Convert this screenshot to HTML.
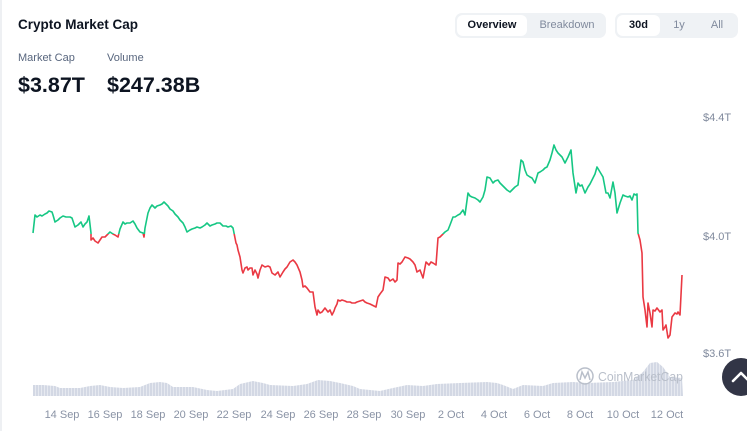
<!DOCTYPE html>
<html><head><meta charset="utf-8"><style>
html,body{margin:0;padding:0;background:#fff;}
body{width:747px;height:431px;position:relative;overflow:hidden;font-family:"Liberation Sans",Arial,sans-serif;}
.edge{position:absolute;left:0;top:0;width:2px;height:431px;background:#eef0f3;}
.title{position:absolute;left:18px;top:17px;font-size:13.5px;font-weight:bold;color:#0d1421;}
.lbl{position:absolute;top:52px;font-size:11px;color:#58667e;}
.val{position:absolute;top:73px;font-size:21.5px;font-weight:bold;color:#0d1421;}
.grp{position:absolute;top:13px;height:25px;background:#eff2f5;border-radius:7px;}
.btn{position:absolute;top:2px;height:21px;line-height:21px;text-align:center;font-size:11px;color:#808a9d;}
.btn.on{background:#fff;border-radius:6px;color:#0d1421;font-weight:bold;}
.ylab{position:absolute;left:703px;font-size:11px;color:#808a9d;}
.xlab{position:absolute;top:409px;font-size:11px;color:#8a93a5;width:50px;margin-left:-25px;text-align:center;}
.up{position:absolute;left:722px;top:358px;width:38px;height:38px;border-radius:50%;background:#323546;}
</style></head><body>
<div class="edge"></div>
<div class="title">Crypto Market Cap</div>
<div class="lbl" style="left:18px">Market Cap</div>
<div class="lbl" style="left:107px">Volume</div>
<div class="val" style="left:18px">$3.87T</div>
<div class="val" style="left:107px">$247.38B</div>

<div class="grp" style="left:455px;width:151px">
  <div class="btn on" style="left:2px;width:70px">Overview</div>
  <div class="btn" style="left:76px;width:72px">Breakdown</div>
</div>
<div class="grp" style="left:615px;width:123px">
  <div class="btn on" style="left:2px;width:43px">30d</div>
  <div class="btn" style="left:48px;width:32px">1y</div>
  <div class="btn" style="left:84px;width:36px">All</div>
</div>

<div class="ylab" style="top:112px">$4.4T</div>
<div class="ylab" style="top:231px">$4.0T</div>
<div class="ylab" style="top:348px">$3.6T</div>

<svg width="747" height="431" style="position:absolute;left:0;top:0" xmlns="http://www.w3.org/2000/svg" xmlns:xlink="http://www.w3.org/1999/xlink">
<defs>
  <clipPath id="above"><rect x="0" y="0" width="747" height="234"/></clipPath>
  <clipPath id="below"><rect x="0" y="234" width="747" height="200"/></clipPath>
  <pattern id="stripes" width="3" height="10" patternUnits="userSpaceOnUse">
    <rect x="0" y="0" width="3" height="10" fill="#d3d8e4"/>
    <rect x="2" y="0" width="1" height="10" fill="#e6e9f0"/>
  </pattern>
  <polyline id="pl" fill="none" stroke-width="1.6" stroke-linejoin="round" points="33,233 35,215 37,217 40,215 42,216 45,214 47,213 49,211 52,212 53,215 55,222 58,220 60,218 63,216 66,217 70,217 72,218 75,227 78,225 81,222 83,227 85,224 87,222 89,216 91,233 91,240 93,238 95,241 98,243 100,240 102,237 105,237 107,235 110,232 113,234 115,235 118,237 120,229 123,222 125,224 127,223 130,223 133,221 135,224 137,228 140,232 143,233 144,237 145,228 148,213 150,208 152,205 155,208 157,206 160,205 162,204 164,202 166,204 168,206 170,209 173,211 175,214 178,217 180,220 183,223 185,227 187,232 190,230 192,229 195,228 197,227 200,228 202,227 205,225 207,223 210,226 212,225 215,224 217,223 220,223 223,226 226,226 228,227 231,226 233,228 234,233 236,243 237,245 238,250 240,257 242,270 243,273 245,268 247,267 248,270 250,268 252,268 253,275 255,270 257,274 258,278 260,270 262,265 265,267 268,266 270,267 272,273 275,275 278,272 280,277 283,272 285,269 287,267 290,262 293,260 295,262 297,265 300,272 302,280 303,287 305,286 307,288 310,292 313,292 315,307 317,315 318,310 320,313 322,312 325,308 328,312 330,310 332,315 334,311 335,308 337,304 338,300 340,301 342,300 345,301 347,302 350,302 352,303 355,303 357,302 360,301 363,300 365,302 367,303 370,304 372,305 374,306 376,307 378,297 380,294 383,290 385,277 388,278 390,281 393,279 395,282 397,280 398,263 400,264 402,262 405,257 408,258 410,259 413,262 415,265 417,272 420,270 423,278 426,262 429,265 431,262 433,263 436,265 438,238 440,237 442,235 445,232 448,230 450,225 453,217 455,217 458,215 460,214 463,210 465,215 468,193 470,196 472,197 475,198 478,200 480,202 483,197 485,190 487,177 490,178 493,183 495,181 498,180 500,183 502,185 505,188 507,190 510,192 513,189 515,187 518,185 521,160 523,162 525,170 527,175 530,177 532,178 535,183 538,173 540,172 543,170 545,168 547,167 550,160 552,153 554,145 556,150 558,153 560,155 562,157 565,163 568,157 571,150 573,173 576,193 578,183 580,186 582,185 585,193 588,187 590,184 592,180 595,174 597,167 600,172 603,177 606,193 608,193 610,198 613,182 615,193 617,213 620,203 623,195 625,196 628,197 630,196 632,200 634,194 636,195 637,194 638,233 640,240 642,253 643,297 645,310 647,327 648,303 650,313 652,327 653,310 655,311 657,308 660,312 662,310 663,330 665,327 666,325 668,338 670,335 672,317 675,313 677,314 678,312 680,315 682,275"/>
</defs>
<polygon fill="url(#stripes)" points="33,396 33,385 43,385 55,386 60,388 80,388 90,386 100,385 110,387 123,388 140,387 150,383 160,382 167,383 173,387 193,387 207,390 217,391 233,389 240,384 253,381 263,383 270,385 293,386 307,384 318,380 330,381 340,383 353,386 360,389 380,391 393,388 407,385 423,386 437,384 460,383 487,382 497,383 503,385 513,389 523,385 543,386 553,383 573,382 587,383 613,382 633,380 643,372 650,363 657,362 663,367 670,377 682,378 683,396"/>
<g fill="none" stroke="#b9bfca" stroke-width="1.5">
  <circle cx="585" cy="376" r="8"/>
  <path d="M580,380 L582,372 L585,378 L588,372 L590,380"/>
</g>
<text x="598" y="381" font-size="13" fill="#b9bfca" font-family="Liberation Sans, Arial, sans-serif" textLength="85" lengthAdjust="spacingAndGlyphs">CoinMarketCap</text>
<g clip-path="url(#above)"><use href="#pl" xlink:href="#pl" stroke="#16c784"/></g>
<g clip-path="url(#below)"><use href="#pl" xlink:href="#pl" stroke="#ea3943"/></g>
</svg>

<div class="xlab" style="left:62px">14 Sep</div>
<div class="xlab" style="left:105px">16 Sep</div>
<div class="xlab" style="left:148px">18 Sep</div>
<div class="xlab" style="left:191px">20 Sep</div>
<div class="xlab" style="left:234px">22 Sep</div>
<div class="xlab" style="left:278px">24 Sep</div>
<div class="xlab" style="left:321px">26 Sep</div>
<div class="xlab" style="left:364px">28 Sep</div>
<div class="xlab" style="left:408px">30 Sep</div>
<div class="xlab" style="left:451px">2 Oct</div>
<div class="xlab" style="left:494px">4 Oct</div>
<div class="xlab" style="left:537px">6 Oct</div>
<div class="xlab" style="left:580px">8 Oct</div>
<div class="xlab" style="left:623px">10 Oct</div>
<div class="xlab" style="left:667px">12 Oct</div>

<div class="up">
  <svg width="38" height="38" style="position:absolute;left:0;top:0"><polyline points="11,23 19,15 27,23" fill="none" stroke="#fff" stroke-width="2.6" stroke-linecap="round" stroke-linejoin="round"/></svg>
</div>
</body></html>
